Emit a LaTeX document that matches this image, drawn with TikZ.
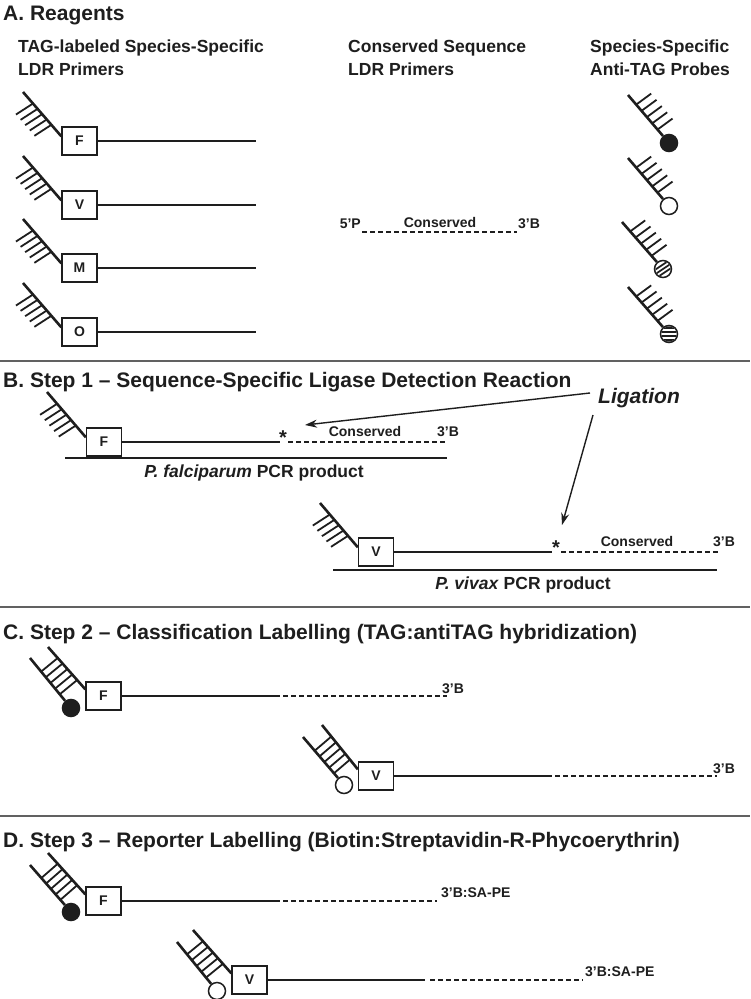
\documentclass[tikz,border=0pt]{standalone}
\usepackage{fontspec}
\setmainfont{Liberation Sans}
\usetikzlibrary{calc,arrows.meta}
\definecolor{ink}{HTML}{1E1E1E}
\newcommand\mkladder[7]{%
  \node[tagbox] (#1b) at #5 {#6};
  \node[#7] (#1c) at #3 {};
  \coordinate (#1a0) at #2;
  \coordinate (#1b0) at #4;
  \coordinate (#1b1) at ($(#1b.north west)+(0,8)$);
  \draw[diag] (#1a0) -- (#1c);
  \draw[diag] (#1b0) -- (#1b1);
  \foreach \f in {0.26,0.39,0.52,0.65,0.78}{
    \coordinate (#1q) at ($(#1b0)!\f!(#1b1)$);
    \draw[hatch] (#1q) -- ($(#1a0)!(#1q)!(#1c.center)$);
  }
}
\begin{document}
\begin{tikzpicture}[x=1pt,y=-1pt,
  diag/.style={line width=2.6pt, draw=ink},
  hatch/.style={line width=1.8pt, draw=ink},
  strand/.style={line width=1.4pt, draw=ink},
  dsh/.style={line width=1.3pt, draw=ink, dash pattern=on 5pt off 3pt},
  tagbox/.style={draw=ink, line width=1.3pt, fill=white, minimum width=35pt, minimum height=28pt, inner sep=0pt, text=ink, font=\fontsize{14}{14}\selectfont\bfseries},
  ttl/.style={anchor=base west, inner sep=0pt, text=ink, font=\fontsize{21}{21}\selectfont\bfseries},
  hdr/.style={anchor=base west, inner sep=0pt, text=ink, font=\fontsize{17.5}{21}\selectfont\bfseries},
  sml/.style={anchor=base, inner sep=0pt, text=ink, font=\fontsize{14}{14}\selectfont\bfseries},
  lbl/.style={anchor=base, inner sep=0pt, text=ink, font=\fontsize{17.5}{21}\selectfont\bfseries},
  beadopen/.style={circle, draw=ink, line width=1.5pt, fill=white, minimum size=17pt, inner sep=0pt},
  beadfull/.style={beadopen, fill=ink},
  sep/.style={line width=2pt, draw=black!62},
  arr/.style={line width=1.4pt, draw=ink, -{Stealth[length=12pt,width=8pt]}}
]
\path[use as bounding box, fill=white] (0,0) rectangle (750,999);

% ---------- Section A ----------
\node[ttl] (tA) at (3,20) {A. Reagents};
\node[hdr] (h1a) at (18,52) {TAG-labeled Species-Specific};
\node[hdr] (h1b) at (18,75) {LDR Primers};
\node[hdr] (h2a) at (348,52) {Conserved Sequence};
\node[hdr] (h2b) at (348,75) {LDR Primers};
\node[hdr] (h3a) at (590,52) {Species-Specific};
\node[hdr] (h3b) at (590,75) {Anti-TAG Probes};

\foreach \c/\L in {141/F,205/V,268/M,332/O}{
  \node[tagbox] (b\L) at (79.5,\c) {\L};
  \coordinate (t\L) at (23,\c-49);
  \coordinate (e\L) at ($(b\L.north west)+(0,10)$);
  \draw[diag] (t\L) -- (e\L);
  \foreach \f in {0.26,0.38,0.50,0.62,0.74}
    \draw[hatch] ($(t\L)!\f!(e\L)$) -- ++(-17,11);
  \coordinate (r\L) at (256,\c);
  \draw[strand] (b\L.east) -- (r\L);
}

% conserved primer
\coordinate (cs) at (362,232);
\coordinate (ce) at (517,232);
\draw[dsh] (cs) -- (ce);
\node[sml, anchor=base east] (c5) at (361,228) {5’P};
\node[sml] (ccon) at (440,227) {Conserved};
\node[sml, anchor=base west] (c3) at (518,228) {3’B};

% anti-TAG probes
\foreach \tx/\ty/\cx/\cy/\k/\st in {628/95/669/143/1/beadfull,628/158/669/206/2/beadopen,622/222/663/269/3/beadopen,628/287/669/334/4/beadopen}{
  \node[\st] (p\k) at (\cx,\cy) {};
  \coordinate (pt\k) at (\tx,\ty);
  \draw[diag] (pt\k) -- (p\k);
  \foreach \f in {0.2,0.33,0.46,0.59,0.72}
    \draw[hatch] ($(pt\k)!\f!(p\k.center)$) -- ++(15,-11);
}
\begin{scope}
  \clip (p3.center) circle[radius=7.6];
  \foreach \o in {-4.5,0,4.5}
    \draw[line width=1.7pt, ink] ($(p3.center)+(-12,\o+8)$) -- ($(p3.center)+(12,\o-8)$);
\end{scope}
\begin{scope}
  \clip (p4.center) circle[radius=7.6];
  \foreach \o in {-6.4,-2.1,2.1,6.4}
    \draw[line width=2.4pt, ink] ($(p4.center)+(-10,\o)$) -- ($(p4.center)+(10,\o)$);
\end{scope}

\draw[sep] (0,361) -- (750,361);

% ---------- Section B ----------
\node[ttl] (tB) at (3,387) {B. Step 1 – Sequence-Specific Ligase Detection Reaction};

% F
\node[tagbox] (bbF) at (104,442) {F};
\coordinate (btF) at (47,392);
\coordinate (beF) at ($(bbF.north west)+(0,10)$);
\draw[diag] (btF) -- (beF);
\foreach \f in {0.26,0.38,0.50,0.62,0.74}
  \draw[hatch] ($(btF)!\f!(beF)$) -- ++(-17,11);
\coordinate (bsF) at (280,442);
\draw[strand] (bbF.east) -- (bsF);
\node[anchor=base, inner sep=0pt, text=ink, font=\fontsize{20}{20}\selectfont\bfseries] (starF) at (283,444) {*};
\coordinate (bdF0) at (288,442);
\coordinate (bdF1) at (447,442);
\draw[dsh] (bdF0) -- (bdF1);
\node[sml] (bconF) at (365,436) {Conserved};
\node[sml, anchor=base west] (b3F) at (437,436) {3’B};
\coordinate (pcrF0) at (65,458);
\coordinate (pcrF1) at (447,458);
\draw[strand] (pcrF0) -- (pcrF1);
\node[lbl] (pcrFt) at (254,477) {\textit{P. falciparum} PCR product};

% V
\node[tagbox] (bbV) at (376,552) {V};
\coordinate (btV) at (320,503);
\coordinate (beV) at ($(bbV.north west)+(0,10)$);
\draw[diag] (btV) -- (beV);
\foreach \f in {0.26,0.38,0.50,0.62,0.74}
  \draw[hatch] ($(btV)!\f!(beV)$) -- ++(-17,11);
\coordinate (bsV) at (552,552);
\draw[strand] (bbV.east) -- (bsV);
\node[anchor=base, inner sep=0pt, text=ink, font=\fontsize{20}{20}\selectfont\bfseries] (starV) at (556,554) {*};
\coordinate (bdV0) at (561,552);
\coordinate (bdV1) at (718,552);
\draw[dsh] (bdV0) -- (bdV1);
\node[sml] (bconV) at (637,546) {Conserved};
\node[sml, anchor=base west] (b3V) at (713,546) {3’B};
\coordinate (pcrV0) at (333,570);
\coordinate (pcrV1) at (717,570);
\draw[strand] (pcrV0) -- (pcrV1);
\node[lbl] (pcrVt) at (523,589) {\textit{P. vivax} PCR product};

% Ligation
\node[anchor=base west, inner sep=0pt, text=ink, font=\fontsize{21}{21}\selectfont\bfseries\itshape] (lig) at (598,403) {Ligation};
\coordinate (l1) at (590,393);
\coordinate (l1t) at (305,425);
\coordinate (l2) at (593,415);
\coordinate (l2t) at (562,525);
\draw[arr] (l1) -- (l1t);
\draw[arr] (l2) -- (l2t);

\draw[sep] (0,607) -- (750,607);

% ---------- Section C ----------
\node[ttl] (tC) at (3,639) {C. Step 2 – Classification Labelling (TAG:antiTAG hybridization)};

\mkladder{cf}{(30,658)}{(71,708)}{(48,647)}{(103.5,696)}{F}{beadfull}
\coordinate (cfs) at (280,696);
\draw[strand] (cfb.east) -- (cfs);
\coordinate (cfd0) at (283,696);
\coordinate (cfd1) at (447,696);
\draw[dsh] (cfd0) -- (cfd1);
\node[sml, anchor=base west] (cf3) at (442,693) {3’B};

\mkladder{cv}{(303,737)}{(344,785)}{(322,725)}{(376,776)}{V}{beadopen}
\coordinate (cvs) at (552,776);
\draw[strand] (cvb.east) -- (cvs);
\coordinate (cvd0) at (555,776);
\coordinate (cvd1) at (717,776);
\draw[dsh] (cvd0) -- (cvd1);
\node[sml, anchor=base west] (cv3) at (713,773) {3’B};

\draw[sep] (0,816) -- (750,816);

% ---------- Section D ----------
\node[ttl] (tD) at (3,847) {D. Step 3 – Reporter Labelling (Biotin:Streptavidin-R-Phycoerythrin)};

\mkladder{df}{(30,865)}{(71,912)}{(48,853)}{(103.5,901)}{F}{beadfull}
\coordinate (dfs) at (280,901);
\draw[strand] (dfb.east) -- (dfs);
\coordinate (dfd0) at (283,901);
\coordinate (dfd1) at (437,901);
\draw[dsh] (dfd0) -- (dfd1);
\node[sml, anchor=base west] (df3) at (441,897) {3’B:SA-PE};

\mkladder{dv}{(177,942)}{(217,991)}{(193,930)}{(249.5,980)}{V}{beadopen}
\coordinate (dvs) at (425,980);
\draw[strand] (dvb.east) -- (dvs);
\coordinate (dvd0) at (430,980);
\coordinate (dvd1) at (583,980);
\draw[dsh] (dvd0) -- (dvd1);
\node[sml, anchor=base west] (dv3) at (585,976) {3’B:SA-PE};
\end{tikzpicture}
\end{document}
